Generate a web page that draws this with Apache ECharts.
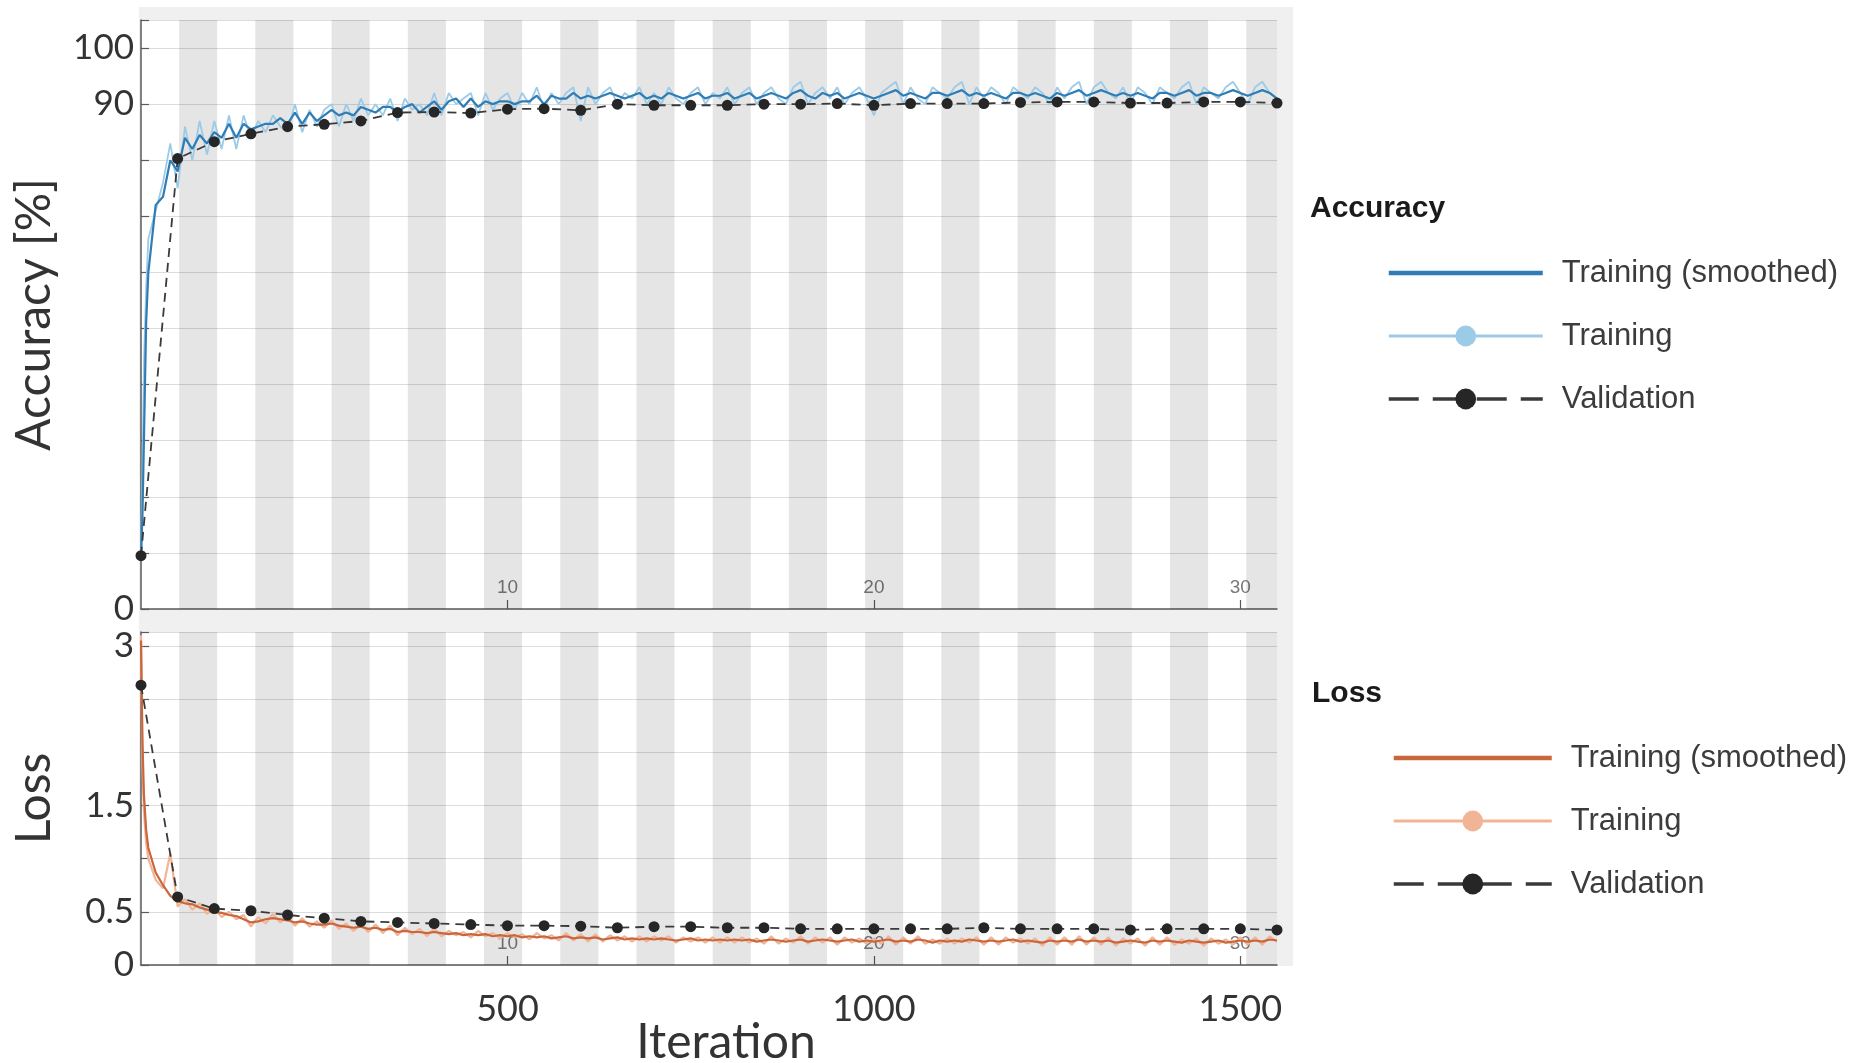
<!DOCTYPE html>
<html>
<head>
<meta charset="utf-8">
<title>Training progress</title>
<script src="https://cdn.jsdelivr.net/npm/echarts@6/dist/echarts.min.js"></script>
<style>
  html, body { margin: 0; padding: 0; background: #fff; }
  #chart { width: 1870px; height: 1063px; }
</style>
</head>
<body>
<div id="chart"></div>
<script>
// iterations at which the training curves are sampled
const sampleIters = [0, 2, 4, 7, 10];
for (let it = 20; it <= 1550; it += 10) sampleIters.push(it);

// validation runs every 50 iterations
const valIters = [];
for (let it = 0; it <= 1550; it += 50) valIters.push(it);

const MAX_ITER = 1550;
const ITERS_PER_EPOCH = 52;

// tick labels
const accTickLabels = [0, 90, 100];
const lossTickLabels = [0, 0.5, 1.5, 3];
const iterTickLabels = [500, 1000, 1500];
const epochTickIters = [500, 1000, 1500];
const epochTickLabels = ['10', '20', '30'];

const accSmoothed = [
  9, 17, 30, 51, 60,
  72, 73.5, 80, 78, 84, 82, 84.5, 83, 85,
  84, 86.5, 84, 86.5, 85.5, 86, 86.5, 86.5, 87.5, 86.5,
  88.5, 86.5, 88.5, 87, 88, 89, 88, 88.5, 88, 89.5,
  89, 88.5, 89.5, 89.5, 88.5, 89.5, 90, 88.5, 89.5, 90.5,
  89, 90.5, 91, 89.5, 91, 89.5, 90.5, 90, 90.5, 90.5,
  90, 90.5, 90.5, 91.5, 90, 91.5, 91, 91, 92, 91,
  91.5, 91, 91.5, 92, 91.5, 91, 91.5, 92, 91, 91.5,
  91, 92, 91.5, 91, 91.5, 92, 91, 91.5, 91.5, 92,
  91, 91.5, 92, 91, 91.5, 92, 91.5, 91, 92, 92.5,
  91.5, 91, 92, 91.5, 92, 91, 91.5, 92, 91.5, 91,
  91.5, 92, 92.5, 91.5, 92, 91.5, 91, 92, 92, 91.5,
  92, 92.5, 91.5, 92, 91.5, 92, 91.5, 91, 92, 92,
  91.5, 92, 91.5, 91, 92, 91.5, 92, 92.5, 91.5, 92,
  92.5, 92, 91.5, 92, 91.5, 92, 91.5, 91, 92, 92,
  91.5, 92, 92.5, 91.5, 92, 92, 91.5, 92, 92.5, 92,
  91.5, 92, 92.5, 92, 91
];

const accRaw = [
  9, 24, 44, 57, 66,
  71, 76, 83, 75, 86, 80, 87, 81, 87,
  82, 88, 82, 88, 84, 87, 85, 88, 86, 85,
  90, 85, 89, 86, 89, 90, 86, 90, 87, 91,
  88, 90, 88, 91, 87, 91, 89, 90, 88, 92,
  88, 92, 90, 91, 92, 88, 92, 89, 91, 92,
  89, 92, 90, 93, 89, 92, 90, 92, 93, 87,
  93, 90, 92, 93, 90, 92, 91, 93, 90, 92,
  90, 93, 91, 90, 92, 93, 90, 92, 91, 93,
  90, 92, 93, 90, 92, 93, 91, 90, 93, 94,
  90, 92, 93, 91, 93, 90, 92, 93, 91, 88,
  92, 93, 94, 90, 93, 91, 90, 93, 92, 91,
  93, 94, 90, 93, 91, 93, 92, 90, 93, 92,
  91, 93, 92, 90, 93, 91, 93, 94, 90, 93,
  94, 92, 91, 93, 90, 93, 92, 90, 93, 92,
  91, 93, 94, 90, 93, 92, 91, 93, 94, 92,
  90, 93, 94, 92, 91
];

const accValidation = [
  9.5, 80.3, 83.3, 84.7, 86.0, 86.4, 87.0, 88.5, 88.6, 88.4,
  89.1, 89.2, 88.9, 90.0, 89.8, 89.8, 89.8, 90.0, 90.0, 90.1,
  89.8, 90.1, 90.1, 90.1, 90.3, 90.4, 90.4, 90.2, 90.2, 90.4,
  90.4, 90.2
];

const lossSmoothed = [
  3.05, 2.1, 1.6, 1.27, 1.1,
  0.87, 0.75, 0.65, 0.60, 0.58, 0.57, 0.54, 0.52, 0.50,
  0.49, 0.47, 0.46, 0.43, 0.40, 0.41, 0.43, 0.44, 0.43, 0.42,
  0.40, 0.41, 0.39, 0.38, 0.38, 0.39, 0.37, 0.36, 0.35, 0.36,
  0.34, 0.35, 0.33, 0.34, 0.31, 0.32, 0.31, 0.31, 0.30, 0.31,
  0.30, 0.29, 0.30, 0.28, 0.29, 0.28, 0.29, 0.27, 0.28, 0.27,
  0.28, 0.26, 0.27, 0.26, 0.27, 0.25, 0.26, 0.27, 0.25, 0.26,
  0.25, 0.26, 0.24, 0.25, 0.26, 0.24, 0.25, 0.24, 0.25, 0.24,
  0.25, 0.24, 0.23, 0.24, 0.25, 0.23, 0.24, 0.23, 0.24, 0.23,
  0.24, 0.23, 0.24, 0.22, 0.23, 0.24, 0.23, 0.22, 0.23, 0.24,
  0.22, 0.23, 0.24, 0.23, 0.22, 0.23, 0.24, 0.22, 0.23, 0.22,
  0.23, 0.24, 0.22, 0.23, 0.22, 0.24, 0.23, 0.21, 0.23, 0.22,
  0.23, 0.22, 0.24, 0.23, 0.22, 0.23, 0.22, 0.23, 0.24, 0.22,
  0.23, 0.22, 0.21, 0.23, 0.22, 0.23, 0.22, 0.24, 0.22, 0.23,
  0.22, 0.23, 0.21, 0.22, 0.23, 0.22, 0.21, 0.23, 0.22, 0.23,
  0.22, 0.21, 0.23, 0.22, 0.21, 0.22, 0.23, 0.21, 0.22, 0.23,
  0.22, 0.23, 0.22, 0.24, 0.23
];

const lossRaw = [
  3.1, 1.9, 1.45, 1.15, 1.0,
  0.80, 0.72, 1.05, 0.55, 0.62, 0.52, 0.58, 0.48, 0.53,
  0.45, 0.50, 0.43, 0.47, 0.36, 0.45, 0.39, 0.48, 0.40, 0.45,
  0.37, 0.44, 0.36, 0.41, 0.35, 0.42, 0.34, 0.39, 0.32, 0.39,
  0.31, 0.38, 0.30, 0.37, 0.28, 0.35, 0.29, 0.34, 0.27, 0.34,
  0.27, 0.32, 0.28, 0.31, 0.26, 0.32, 0.27, 0.30, 0.25, 0.30,
  0.26, 0.29, 0.24, 0.30, 0.25, 0.28, 0.23, 0.30, 0.23, 0.29,
  0.22, 0.29, 0.22, 0.28, 0.23, 0.27, 0.22, 0.27, 0.22, 0.27,
  0.23, 0.27, 0.21, 0.26, 0.22, 0.26, 0.21, 0.26, 0.21, 0.26,
  0.21, 0.26, 0.21, 0.25, 0.20, 0.27, 0.20, 0.25, 0.21, 0.27,
  0.20, 0.26, 0.21, 0.26, 0.19, 0.26, 0.21, 0.25, 0.20, 0.25,
  0.20, 0.27, 0.19, 0.26, 0.20, 0.27, 0.20, 0.24, 0.20, 0.25,
  0.20, 0.25, 0.21, 0.26, 0.19, 0.26, 0.19, 0.26, 0.21, 0.25,
  0.20, 0.25, 0.18, 0.26, 0.19, 0.26, 0.19, 0.27, 0.19, 0.26,
  0.19, 0.26, 0.18, 0.25, 0.20, 0.25, 0.18, 0.26, 0.19, 0.26,
  0.19, 0.24, 0.20, 0.25, 0.18, 0.25, 0.20, 0.24, 0.19, 0.26,
  0.19, 0.26, 0.19, 0.27, 0.22
];

const lossValidation = [
  2.63, 0.64, 0.53, 0.51, 0.47, 0.44, 0.41, 0.40, 0.39, 0.38,
  0.37, 0.37, 0.365, 0.35, 0.36, 0.36, 0.35, 0.35, 0.34, 0.34,
  0.34, 0.34, 0.34, 0.35, 0.34, 0.34, 0.34, 0.33, 0.34, 0.34,
  0.34, 0.33
];

function zip(xs, ys) {
  return ys.map((v, i) => [xs[i], v]);
}

// grey band behind every second epoch
const epochBands = [];
for (let e = 1; e * ITERS_PER_EPOCH < MAX_ITER; e += 2) {
  epochBands.push([
    { xAxis: e * ITERS_PER_EPOCH },
    { xAxis: Math.min((e + 1) * ITERS_PER_EPOCH, MAX_ITER) }
  ]);
}

const NUM_FONT = 'Lato, "Open Sans", sans-serif';
const LEG_FONT = '"Liberation Sans", Arial, sans-serif';

const ACC_SMOOTH = '#2f7db4';
const ACC_RAW = '#9ccbe8';
const LOSS_SMOOTH = '#c9663c';
const LOSS_RAW = '#f2b496';
const VAL_LINE = '#3a3a3a';
const VAL_DOT = '#262626';
const LINE_ICON = 'path://M0,0H100V3H0Z';

function pickLabel(values, labels) {
  return v => {
    const i = values.indexOf(v);
    return i >= 0 ? labels[i] : '';
  };
}

function iterAxis(gridIndex, showLabels) {
  return {
    type: 'value', gridIndex, position: 'bottom',
    min: 0, max: MAX_ITER, interval: 500,
    axisLine: { show: true, onZero: false, lineStyle: { color: '#5a5a5a', width: 1.5 } },
    axisTick: { show: false },
    splitLine: { show: false },
    axisLabel: showLabels ? {
      customValues: iterTickLabels,
      formatter: v => String(v),
      fontFamily: NUM_FONT, fontSize: 36, color: '#333', margin: 26
    } : { show: false },
    name: showLabels ? 'Iteration' : '',
    nameLocation: 'middle', nameGap: 54, nameMoveOverlap: false,
    nameTextStyle: { fontFamily: NUM_FONT, fontSize: 48, color: '#333', padding: [0, 0, 0, 34] }
  };
}

function epochAxis(gridIndex) {
  return {
    type: 'value', gridIndex, position: 'bottom',
    min: 0, max: MAX_ITER, interval: 500,
    axisLine: { show: false },
    axisTick: { show: true, inside: true, length: 9, customValues: epochTickIters,
      lineStyle: { color: '#5a5a5a', width: 1.2 } },
    splitLine: { show: false },
    axisLabel: {
      inside: true, margin: 12, customValues: epochTickIters,
      formatter: pickLabel(epochTickIters, epochTickLabels),
      fontFamily: LEG_FONT, fontSize: 19, color: '#7a7a7a'
    }
  };
}

function valueAxis(gridIndex, max, interval, labels, name) {
  return {
    type: 'value', gridIndex, min: 0, max, interval,
    axisLine: { show: true, onZero: false, lineStyle: { color: '#5a5a5a', width: 1.5 } },
    axisTick: { show: true, inside: true, length: 8, lineStyle: { color: '#5a5a5a', width: 1.2 } },
    splitLine: { show: true, lineStyle: { color: '#dcdcdc', width: 1 } },
    axisLabel: { customValues: labels, fontFamily: NUM_FONT, fontSize: 35, color: '#333', margin: 7 },
    name, nameLocation: 'middle', nameGap: 82,
    nameTextStyle: { fontFamily: NUM_FONT, fontSize: 48, color: '#333' }
  };
}

function legend(left, top, width, names, label) {
  return {
    orient: 'vertical', left, top, padding: 0,
    itemWidth: width, itemHeight: 26, itemGap: 31,
    selectedMode: false,
    lineStyle: { width: 3 },
    formatter: name => name.replace(label + ': ', ''),
    textStyle: { fontFamily: LEG_FONT, fontSize: 31, color: '#3c3c3c', lineHeight: 32, padding: [0, 0, 0, 14] },
    data: [
      { name: names[0], icon: LINE_ICON },
      { name: names[1] },
      { name: names[2], lineStyle: { type: [30, 14], width: 3.5 } }
    ]
  };
}

const chart = echarts.init(document.getElementById('chart'));

chart.setOption({
  animation: false,
  backgroundColor: '#fff',
  graphic: [{
    type: 'rect', z: -10, silent: true,
    shape: { x: 139, y: 7, width: 1154, height: 959 },
    style: { fill: '#f0f0f0' }
  }],
  title: [
    { text: 'Accuracy', left: 1310, top: 191, padding: 0,
      textStyle: { fontFamily: LEG_FONT, fontSize: 30, fontWeight: 'bold', color: '#1a1a1a', lineHeight: 36 } },
    { text: 'Loss', left: 1312, top: 676, padding: 0,
      textStyle: { fontFamily: LEG_FONT, fontSize: 30, fontWeight: 'bold', color: '#1a1a1a', lineHeight: 36 } }
  ],
  legend: [
    legend(1387, 257, 154, ['Accuracy: Training (smoothed)', 'Accuracy: Training', 'Accuracy: Validation'], 'Accuracy'),
    legend(1392, 742, 158, ['Loss: Training (smoothed)', 'Loss: Training', 'Loss: Validation'], 'Loss')
  ],
  grid: [
    { left: 141, top: 20, width: 1136, height: 589, outerBoundsMode: 'none',
      show: true, backgroundColor: '#fff', borderWidth: 0 },
    { left: 141, top: 632, width: 1136, height: 333, outerBoundsMode: 'none',
      show: true, backgroundColor: '#fff', borderWidth: 0 }
  ],
  xAxis: [iterAxis(0, false), epochAxis(0), iterAxis(1, true), epochAxis(1)],
  yAxis: [
    valueAxis(0, 105, 10, accTickLabels, 'Accuracy [%]'),
    valueAxis(1, 3.13, 0.5, lossTickLabels, 'Loss')
  ],
  series: [
    { name: 'bandsAcc', type: 'line', xAxisIndex: 0, yAxisIndex: 0, data: [], z: 1, silent: true,
      markArea: { silent: true, itemStyle: { color: 'rgba(0,0,0,0.1)' }, data: epochBands } },
    { name: 'bandsLoss', type: 'line', xAxisIndex: 2, yAxisIndex: 1, data: [], z: 1, silent: true,
      markArea: { silent: true, itemStyle: { color: 'rgba(0,0,0,0.1)' }, data: epochBands } },

    { name: 'Accuracy: Training', type: 'line', xAxisIndex: 0, yAxisIndex: 0, z: 2,
      data: zip(sampleIters, accRaw), symbol: 'circle', showSymbol: false,
      color: ACC_RAW, lineStyle: { color: ACC_RAW, width: 1.8 } },
    { name: 'Accuracy: Training (smoothed)', type: 'line', xAxisIndex: 0, yAxisIndex: 0, z: 3,
      data: zip(sampleIters, accSmoothed), symbol: 'none',
      color: ACC_SMOOTH, lineStyle: { color: ACC_SMOOTH, width: 2.2 } },
    { name: 'Accuracy: Validation', type: 'line', xAxisIndex: 0, yAxisIndex: 0, z: 4,
      data: zip(valIters, accValidation), symbol: 'circle', symbolSize: 11,
      color: VAL_DOT, itemStyle: { color: VAL_DOT },
      lineStyle: { color: VAL_LINE, width: 1.8, type: [9, 6] } },

    { name: 'Loss: Training', type: 'line', xAxisIndex: 2, yAxisIndex: 1, z: 2,
      data: zip(sampleIters, lossRaw), symbol: 'circle', showSymbol: false,
      color: LOSS_RAW, lineStyle: { color: LOSS_RAW, width: 2.2 } },
    { name: 'Loss: Training (smoothed)', type: 'line', xAxisIndex: 2, yAxisIndex: 1, z: 3,
      data: zip(sampleIters, lossSmoothed), symbol: 'none',
      color: LOSS_SMOOTH, lineStyle: { color: LOSS_SMOOTH, width: 2.2 } },
    { name: 'Loss: Validation', type: 'line', xAxisIndex: 2, yAxisIndex: 1, z: 4,
      data: zip(valIters, lossValidation), symbol: 'circle', symbolSize: 11,
      color: VAL_DOT, itemStyle: { color: VAL_DOT },
      lineStyle: { color: VAL_LINE, width: 1.8, type: [9, 6] } }
  ]
});
</script>
</body>
</html>
